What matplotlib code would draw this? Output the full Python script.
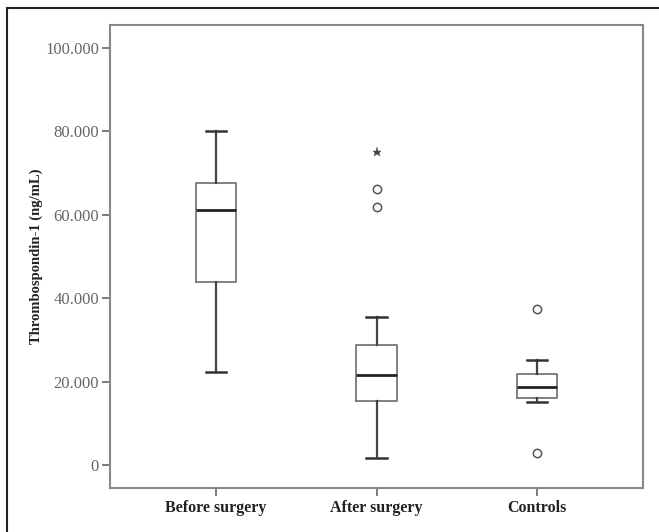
import matplotlib
matplotlib.use("Agg")
import matplotlib.pyplot as plt
from matplotlib.patches import Rectangle

categories = ["Before surgery", "After surgery", "Controls"]
whisker_low = [22.4, 1.8, 15.1]
q1 = [43.9, 15.4, 16.1]
median = [61.1, 21.5, 18.8]
q3 = [67.7, 28.9, 21.8]
whisker_high = [80.1, 35.4, 25.2]
outliers_circle = [[], [61.9, 66.3], [2.8, 37.3]]
outliers_star = [[], [75.1], []]
yticks = [0, 20, 40, 60, 80, 100]
ytick_labels = ["0", "20.000", "40.000", "60.000", "80.000", "100.000"]

fig = plt.figure(figsize=(6.59, 5.32), dpi=100)
W, H = 659, 532
ax = fig.add_axes([110 / W, 1 - 488 / H, (643 - 110) / W, (488 - 25) / H])

stats = []
for i in range(len(categories)):
    stats.append(dict(med=median[i], q1=q1[i], q3=q3[i],
                      whislo=whisker_low[i], whishi=whisker_high[i],
                      fliers=[], label=categories[i]))
pos = list(range(1, len(categories) + 1))
line_col = "#444444"
ax.bxp(stats, positions=pos, widths=0.25, showfliers=False,
       boxprops=dict(color="#777777", linewidth=1.3),
       medianprops=dict(color="#222222", linewidth=2),
       whiskerprops=dict(color=line_col, linewidth=1.6),
       capprops=dict(color="#333333", linewidth=1.8),
       capwidths=0.125)
for i, p in enumerate(pos):
    if outliers_circle[i]:
        ax.plot([p] * len(outliers_circle[i]), outliers_circle[i], "o",
                mfc="white", mec="#555555", ms=6, mew=1.1)
    if outliers_star[i]:
        ax.plot([p] * len(outliers_star[i]), outliers_star[i], "*",
                color="#444444", ms=6.5, mew=0.3)

ax.set_xlim(0.34, 3.66)
ax.set_ylim(-5.5, 105.5)
ax.set_yticks(yticks)
ax.set_yticklabels(ytick_labels, family="Liberation Serif", fontsize=12,
                   color="#666666")
ax.set_xticks(pos)
ax.set_xticklabels(categories, family="Liberation Serif", fontsize=11.5,
                   fontweight="bold", color="#222222")
ax.tick_params(axis="both", length=6, width=1.2, color="#666666", pad=2)
ax.tick_params(axis="x", pad=3)
for s in ax.spines.values():
    s.set_color("#888888")
    s.set_linewidth(1.5)
ax.set_ylabel("Thrombospondin-1 (ng/mL)", family="Liberation Serif",
              fontsize=10.5, fontweight="bold", color="#222222")
ax.yaxis.set_label_coords((43 - 110) / 533, 0.5)

fig.patches.append(Rectangle((7 / W, -0.1), 1.2, 1 - 8 / H + 0.1,
                             transform=fig.transFigure, fill=False,
                             edgecolor="#222222", linewidth=1.5))

fig.savefig("out.png", dpi=100)
